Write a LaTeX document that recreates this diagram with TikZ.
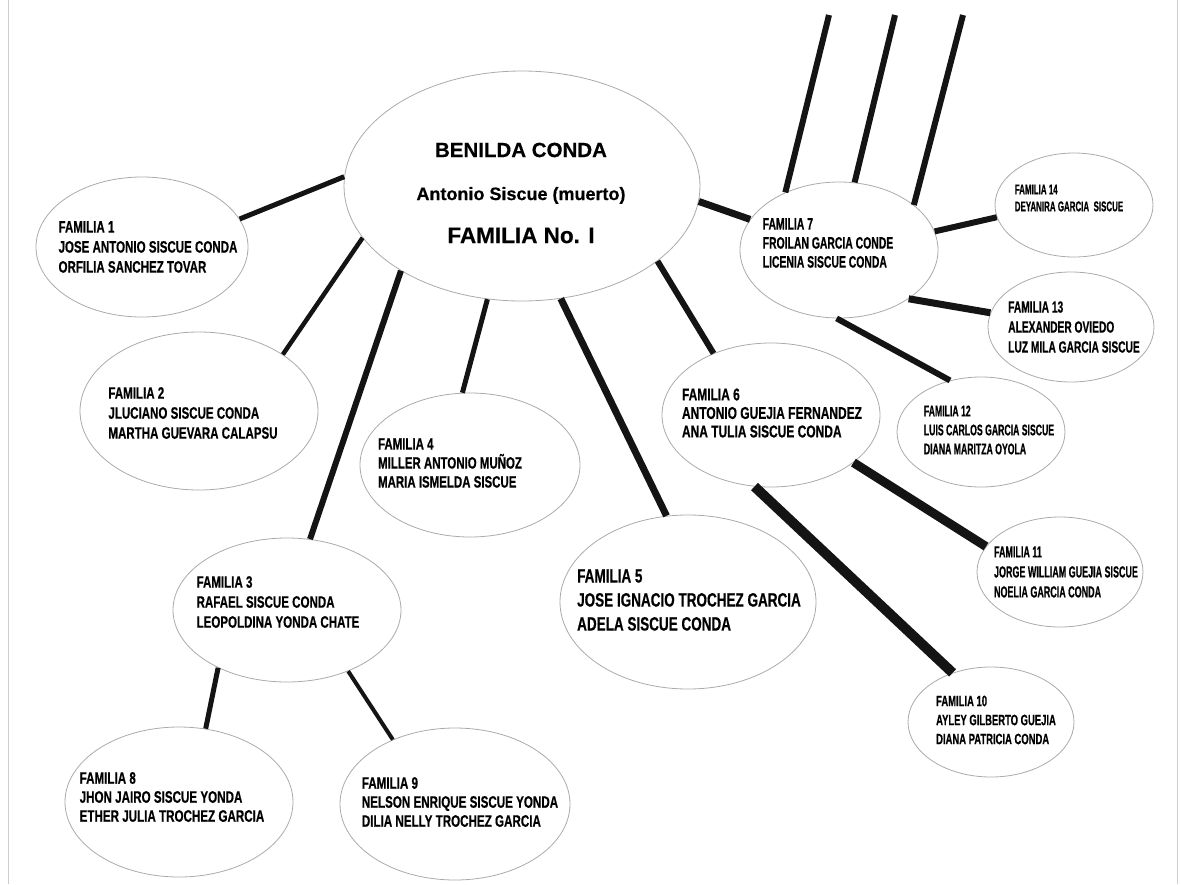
\documentclass[tikz,border=0pt]{standalone}
\usepackage{fontspec}
\setmainfont{Liberation Sans}
\newfontfamily\headfont[FakeBold=0.4]{Liberation Sans Bold}
\newfontfamily\famfont[FakeStretch=0.70,FakeBold=0.5]{Liberation Sans Bold}
\newfontfamily\narrowfont[FakeStretch=0.63,FakeBold=0.5]{Liberation Sans Bold}
\newfontfamily\tightfont[FakeStretch=0.56,FakeBold=0.5]{Liberation Sans Bold}
\newcommand{\fsz}[2]{\fontsize{#1}{#2}\selectfont}
\usetikzlibrary{shapes.geometric}
\definecolor{ringgray}{RGB}{170,170,170}
\definecolor{edgegray}{RGB}{205,205,205}
\tikzset{
  fam/.style 2 args={ellipse, draw=ringgray, line width=0.8pt, minimum width=#1, minimum height=#2, inner sep=0pt},
  famtext/.style={align=left, inner sep=0pt},
  link/.style={line width=#1, black!92}
}
\begin{document}
\begin{tikzpicture}[x=1pt,y=1pt]
\useasboundingbox (0,0) rectangle (1181,-884);
\draw [edgegray, line width=1pt] (8,0) -- (8,-884) (1177,0) -- (1177,-884);

% ellipses
\node [fam={356}{230}] (c) at (522,-186) {};
\node [fam={212}{140}] (f1) at (142,-247) {};
\node [fam={238}{158}] (f2) at (199,-411) {};
\node [fam={228}{144}] (f3) at (287,-610) {};
\node [fam={220}{144}] (f4) at (470,-465) {};
\node [fam={256}{174}] (f5) at (688,-602) {};
\node [fam={218}{144}] (f6) at (771,-415) {};
\node [fam={198}{136}] (f7) at (839,-250) {};
\node [fam={228}{150}] (f8) at (179,-802) {};
\node [fam={230}{152}] (f9) at (455,-804) {};
\node [fam={166}{110}] (f10) at (991,-722) {};
\node [fam={166}{110}] (f11) at (1060,-572) {};
\node [fam={168}{110}] (f12) at (981,-432) {};
\node [fam={166}{110}] (f13) at (1071,-327) {};
\node [fam={158}{104}] (f14) at (1074,-205) {};

% texts
\node [famtext, align=center, font=\headfont\fsz{19}{43}] (ct) at (521,-193)
  {\fsz{20.5}{43}BENILDA CONDA\\\fsz{18}{43}Antonio Siscue (muerto)\\\fsz{22.5}{43}FAMILIA No. I};
\node [famtext, font=\famfont\fsz{16.5}{20}] (t1) at (148,-247)
  {FAMILIA 1\\JOSE ANTONIO SISCUE CONDA\\ORFILIA SANCHEZ TOVAR};
\node [famtext, font=\famfont\fsz{16.5}{20}] (t2) at (193,-413)
  {FAMILIA 2\\JLUCIANO SISCUE CONDA\\MARTHA GUEVARA CALAPSU};
\node [famtext, font=\famfont\fsz{16.5}{20}] (t3) at (278,-602)
  {FAMILIA 3\\RAFAEL SISCUE CONDA\\LEOPOLDINA YONDA CHATE};
\node [famtext, font=\famfont\fsz{16.4}{19}] (t4) at (450,-463)
  {FAMILIA 4\\MILLER ANTONIO MUÑOZ\\MARIA ISMELDA SISCUE};
\node [famtext, font=\famfont\fsz{19.3}{24}] (t5) at (689,-600)
  {FAMILIA 5\\JOSE IGNACIO TROCHEZ GARCIA\\ADELA SISCUE CONDA};
\node [famtext, font=\famfont\fsz{17.1}{18.5}] (t6) at (772,-413)
  {FAMILIA 6\\ANTONIO GUEJIA FERNANDEZ\\ANA TULIA SISCUE CONDA};
\node [famtext, font=\narrowfont\fsz{16.5}{19}] (t7) at (828,-243)
  {FAMILIA 7\\FROILAN GARCIA CONDE\\LICENIA SISCUE CONDA};
\node [famtext, font=\famfont\fsz{16.6}{19}] (t8) at (172,-797)
  {FAMILIA 8\\JHON JAIRO SISCUE YONDA\\ETHER JULIA TROCHEZ GARCIA};
\node [famtext, font=\famfont\fsz{16.6}{19}] (t9) at (460,-802)
  {FAMILIA 9\\NELSON ENRIQUE SISCUE YONDA\\DILIA NELLY TROCHEZ GARCIA};
\node [famtext, font=\narrowfont\fsz{15}{19}] (t10) at (996,-720)
  {FAMILIA 10\\AYLEY GILBERTO GUEJIA\\DIANA PATRICIA CONDA};
\node [famtext, font=\tightfont\fsz{16}{20}] (t11) at (1066,-572)
  {FAMILIA 11\\JORGE WILLIAM GUEJIA SISCUE\\NOELIA GARCIA CONDA};
\node [famtext, font=\tightfont\fsz{15.5}{19}] (t12) at (989,-430)
  {FAMILIA 12\\LUIS CARLOS GARCIA SISCUE\\DIANA MARITZA OYOLA};
\node [famtext, font=\narrowfont\fsz{16.2}{20}] (t13) at (1074,-327)
  {FAMILIA 13\\ALEXANDER OVIEDO\\LUZ MILA GARCIA SISCUE};
\node [famtext, font=\tightfont\fsz{14.2}{17}] (t14) at (1069,-198)
  {FAMILIA 14\\DEYANIRA GARCIA\ \ SISCUE};

% links
\coordinate (up1) at (829,-15);
\coordinate (up2) at (895,-15);
\coordinate (up3) at (963,-15);
\draw [link=5] (c.177) -- (f1.16);
\draw [link=4.5] (c.198) -- (f2.34);
\draw [link=6] (c.215) -- (f3.72);
\draw [link=5] (c.253) -- (f4.96);
\draw [link=7] (c.289) -- (f5.104);
\draw [link=6] (c.331) -- (f6.133);
\draw [link=7] (c.355) -- (f7.161);
\draw [link=5] (f3.220) -- (f8.70);
\draw [link=4] (f3.315) -- (f9.134);
\draw [link=10] (f6.257) -- (f10.128);
\draw [link=9] (f6.330) -- (f11.161);
\draw [link=6] (f7.268) -- (f12.121);
\draw [link=7] (f7.325) -- (f13.170);
\draw [link=6] (f7.11) -- (f14.189);
\draw [link=6] (f7.133) -- (up1);
\draw [link=6] (f7.77) -- (up2);
\draw [link=6] (f7.31) -- (up3);

\end{tikzpicture}
\end{document}
